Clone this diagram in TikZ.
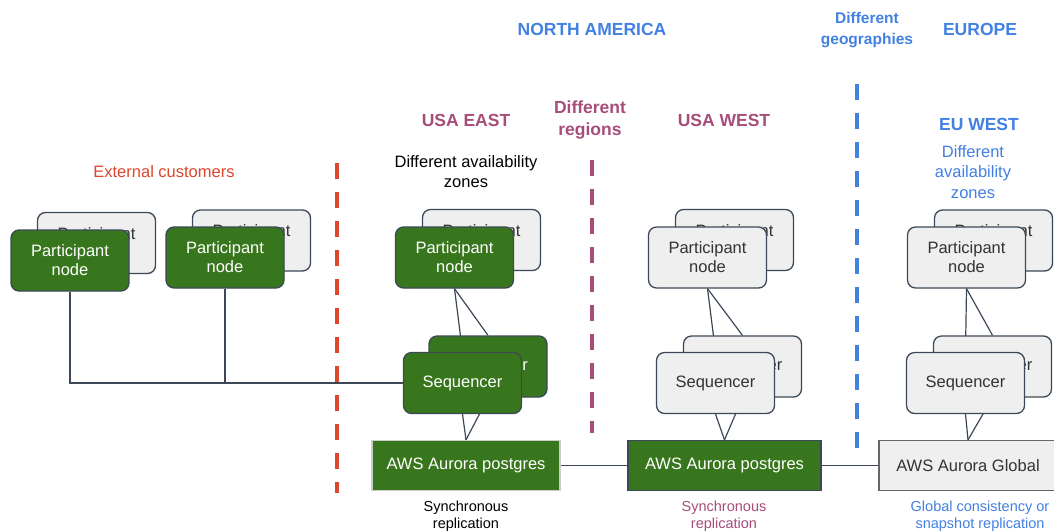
\documentclass[tikz,border=0pt]{standalone}
\usepackage{fontspec}
\setmainfont{Liberation Sans}
\usetikzlibrary{backgrounds}
\definecolor{nodegreen}{RGB}{56,118,29}
\definecolor{nodegray}{RGB}{239,239,239}
\definecolor{edgeslate}{RGB}{60,72,88}
\definecolor{zonered}{RGB}{220,70,45}
\definecolor{regionpink}{RGB}{166,77,121}
\definecolor{geoblue}{RGB}{66,128,226}
\tikzset{box/.style={draw=edgeslate,line width=1.3pt,rounded corners=8pt,minimum width=118pt,minimum height=61pt,inner sep=0pt,align=center,font=\fontsize{16.5}{19}\selectfont},
  gbox/.style={box,fill=nodegreen,text=white},wbox/.style={box,fill=nodegray,text=black!80},
  dbbox/.style={line width=1.3pt,minimum width=190pt,minimum height=50pt,inner sep=0pt,font=\fontsize{16.5}{19}\selectfont},
  link/.style={draw=edgeslate,line width=1.2pt},divider/.style={line width=4pt,dash pattern=on 16pt off 13pt},
  hdr/.style={font=\bfseries\fontsize{17.5}{22}\selectfont,align=center},
  txt/.style={font=\fontsize{16.5}{20}\selectfont,align=center},note/.style={font=\fontsize{14.5}{17}\selectfont,align=center}}

\begin{document}
\begin{tikzpicture}[x=1pt,y=-1pt]
\useasboundingbox (0,0) rectangle (1054,531);
\node[hdr,geoblue] (na) at (592,29) {NORTH AMERICA}; \node[hdr,geoblue] (eu) at (980,29) {EUROPE};
\node[hdr,geoblue,font=\bfseries\fontsize{15.5}{21}\selectfont] (geo) at (867,30) {Different\\geographies};
\node[hdr,regionpink] (ue) at (466,120) {USA EAST}; \node[hdr,regionpink] (uw) at (724,120) {USA WEST};
\node[hdr,regionpink] (reg) at (590,120) {Different\\regions}; \node[hdr,geoblue] (ew) at (979,124) {EU WEST};
\node[txt,zonered] (ext) at (164,172) {External customers};
\node[txt] (eaz) at (466,172) {Different availability\\zones};
\node[txt,geoblue,font=\fontsize{16.5}{20.5}\selectfont] (uaz) at (973,172) {Different\\availability\\zones};
\draw[divider,zonered] (337,163) -- (337,493);
\draw[divider,regionpink] (592,160) -- (592,433);
\draw[divider,geoblue] (857,84) -- (857,452);
\node[wbox] (c1b) at (96.5,243) {Participant\\node}; \node[gbox] (c1) at (70,260.5) {Participant\\node};
\node[wbox] (c2b) at (251.5,240.5) {Participant\\node}; \node[gbox] (c2) at (225,257.5) {Participant\\node};
\node[wbox] (epb) at (481.5,240) {Participant\\node}; \node[gbox] (ep) at (454.5,257.5) {Participant\\node};
\node[gbox] (esb) at (488,366.5) {Sequencer}; \node[gbox] (es) at (462.5,383) {Sequencer};
\node[dbbox,fill=nodegreen,draw=black!20,text=white,minimum width=188pt] (ed) at (466,465.5) {AWS Aurora postgres};
\node[wbox] (wpb) at (734.5,240) {Participant\\node}; \node[wbox] (wp) at (707.5,257.5) {Participant\\node};
\node[wbox] (wsb) at (742.5,366.5) {Sequencer}; \node[wbox] (ws) at (715.5,383) {Sequencer};
\node[dbbox,fill=nodegreen,draw=edgeslate,text=white,minimum width=193pt] (wd) at (724.5,465.5) {AWS Aurora postgres};
\node[wbox] (upb) at (993.5,240.5) {Participant\\node}; \node[wbox] (up) at (966.5,257.5) {Participant\\node};
\node[wbox] (usb) at (992.5,366.5) {Sequencer}; \node[wbox] (us) at (965.5,383) {Sequencer};
\node[dbbox,fill=nodegray,draw=black!60,text=black!80,minimum width=178pt] (ud) at (968,465.5) {AWS Aurora Global};
\node[note] (en) at (466,516.5) {Synchronous\\replication};
\node[note,regionpink] (wn) at (724,516.5) {Synchronous\\replication};
\node[note,geoblue] (un) at (980,516.5) {Global consistency or\\snapshot replication};
\begin{scope}[on background layer]
\draw[link] (c1.south) |- (es.west); \draw[link] (c2.south) -- (c2.south |- es.west);
\draw[link] (ep.south) -- (es.north); \draw[link] (ep.south) -- (esb.north); \draw[link] (es.south) -- (ed.north); \draw[link] (esb.south) -- (ed.north);
\draw[link] (wp.south) -- (ws.north); \draw[link] (wp.south) -- (wsb.north); \draw[link] (ws.south) -- (wd.north); \draw[link] (wsb.south) -- (wd.north);
\draw[link] (up.south) -- (us.north); \draw[link] (up.south) -- (usb.north); \draw[link] (us.south) -- (ud.north); \draw[link] (usb.south) -- (ud.north);
\draw[link] (ed) -- (wd); \draw[link] (wd) -- (ud);
\end{scope}
\end{tikzpicture}
\end{document}
